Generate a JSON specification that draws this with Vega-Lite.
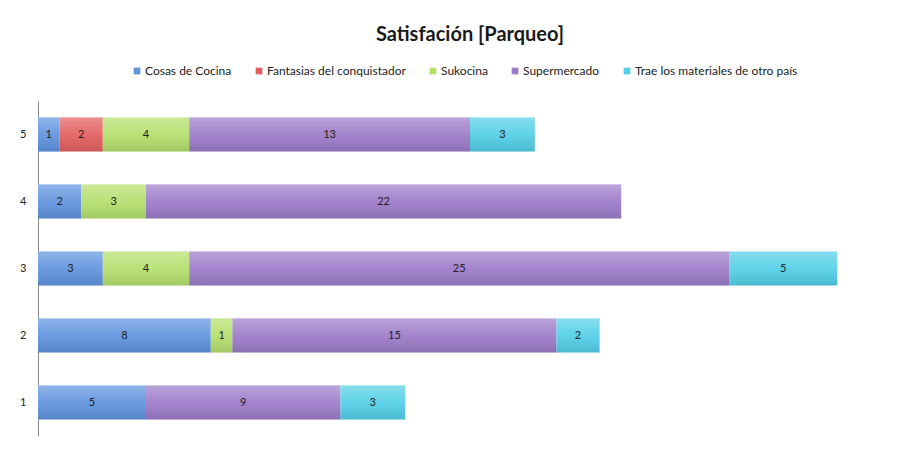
{
  "$schema": "https://vega.github.io/schema/vega-lite/v6.json",
  "width": 864,
  "height": 335,
  "autosize": "none",
  "padding": {"left": 38, "top": 101, "right": 5, "bottom": 14},
  "background": "white",
  "config": {
    "view": {"stroke": null},
    "font": "Lato",
    "text": {"font": "Lato"}
  },
  "title": {
    "text": "Satisfación [Parqueo]",
    "anchor": "middle",
    "fontSize": 20,
    "fontWeight": "bold",
    "font": "Lato",
    "color": "#1a1a1a",
    "offset": 20
  },
  "data": {
    "values": [
      {"rating": "5", "series": "Cosas de Cocina", "value": 1},
      {"rating": "5", "series": "Fantasias del conquistador", "value": 2},
      {"rating": "5", "series": "Sukocina", "value": 4},
      {"rating": "5", "series": "Supermercado", "value": 13},
      {"rating": "5", "series": "Trae los materiales de otro país", "value": 3},
      {"rating": "4", "series": "Cosas de Cocina", "value": 2},
      {"rating": "4", "series": "Sukocina", "value": 3},
      {"rating": "4", "series": "Supermercado", "value": 22},
      {"rating": "3", "series": "Cosas de Cocina", "value": 3},
      {"rating": "3", "series": "Sukocina", "value": 4},
      {"rating": "3", "series": "Supermercado", "value": 25},
      {"rating": "3", "series": "Trae los materiales de otro país", "value": 5},
      {"rating": "2", "series": "Cosas de Cocina", "value": 8},
      {"rating": "2", "series": "Sukocina", "value": 1},
      {"rating": "2", "series": "Supermercado", "value": 15},
      {"rating": "2", "series": "Trae los materiales de otro país", "value": 2},
      {"rating": "1", "series": "Cosas de Cocina", "value": 5},
      {"rating": "1", "series": "Supermercado", "value": 9},
      {"rating": "1", "series": "Trae los materiales de otro país", "value": 3}
    ]
  },
  "transform": [
    {"stack": "value", "groupby": ["rating"], "as": ["x0", "x1"], "sort": [{"field": "series", "order": "ascending"}]},
    {"calculate": "(datum.x0 + datum.x1) / 2", "as": "xm"}
  ],
  "encoding": {
    "y": {
      "field": "rating",
      "type": "ordinal",
      "sort": "descending",
      "scale": {"paddingInner": 0.49, "paddingOuter": 0.245},
      "axis": {
        "title": null,
        "ticks": false,
        "domainColor": "#888888",
        "domainWidth": 1,
        "labelFontSize": 11,
        "labelColor": "#222222",
        "labelPadding": 12,
        "labelFont": "Lato"
      }
    }
  },
  "layer": [
    {
      "mark": {"type": "bar"},
      "encoding": {
        "x": {"field": "x0", "type": "quantitative", "scale": {"domain": [0, 40], "nice": false}, "axis": null},
        "x2": {"field": "x1"},
        "color": {
          "field": "series",
          "type": "nominal",
          "scale": {
            "domain": ["Cosas de Cocina", "Fantasias del conquistador", "Sukocina", "Supermercado", "Trae los materiales de otro país"],
            "range": ["#5f93de", "#e25e5e", "#b3df6c", "#9c7bc9", "#52cfe6"]
          },
          "legend": {
            "orient": "none",
            "legendX": 93,
            "legendY": -36,
            "direction": "horizontal",
            "columns": 5,
            "title": null,
            "symbolType": "square",
            "symbolSize": 45,
            "symbolStrokeWidth": 0,
            "labelFontSize": 12,
            "labelFont": "Lato",
            "labelColor": "#222222",
            "labelOffset": 2,
            "labelLimit": 400,
            "columnPadding": 21
          }
        }
      }
    },
    {
      "mark": {
        "type": "bar",
        "color": {
          "gradient": "linear",
          "x1": 0, "y1": 0, "x2": 0, "y2": 1,
          "stops": [
            {"offset": 0, "color": "rgba(255,255,255,0.30)"},
            {"offset": 0.5, "color": "rgba(255,255,255,0.08)"},
            {"offset": 1, "color": "rgba(0,0,0,0.10)"}
          ]
        }
      },
      "encoding": {
        "x": {"field": "x0", "type": "quantitative"},
        "x2": {"field": "x1"},
        "detail": {"field": "series"}
      }
    },
    {
      "mark": {"type": "text", "fontSize": 11, "font": "Lato", "color": "#222222"},
      "encoding": {
        "x": {"field": "xm", "type": "quantitative"},
        "text": {"field": "value", "type": "quantitative"}
      }
    }
  ]
}
